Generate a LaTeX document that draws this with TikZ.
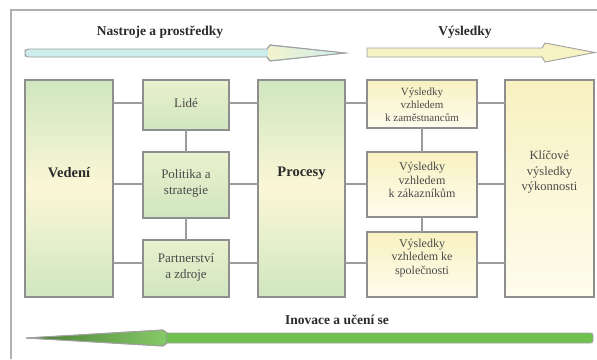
\documentclass[tikz,border=0pt]{standalone}
\usepackage{fontspec}
\setmainfont{Liberation Serif}
\definecolor{gr}{HTML}{D0E6C0}
\definecolor{ye}{HTML}{FBF7D6}
\definecolor{yel}{HTML}{F8F1C0}
\definecolor{yelb}{HTML}{FEFCEE}
\definecolor{boxline}{HTML}{8E8E8E}
\definecolor{connc}{HTML}{9C9C9C}
\definecolor{txtc}{HTML}{4A4A4A}
\definecolor{boldc}{HTML}{2B2B2B}
\definecolor{framec}{HTML}{B0B0B0}
\definecolor{arrc}{HTML}{A0A0A0}
\definecolor{cy}{HTML}{CDEDED}
\definecolor{cyhead}{HTML}{F3F3CC}
\definecolor{yarr}{HTML}{F7F2C4}
\definecolor{grarr}{HTML}{70C04E}
\begin{document}
\begin{tikzpicture}[x=1pt,y=-1pt,
  box/.style={draw=boxline, line width=1.1pt, inner sep=0pt, outer sep=0pt, rectangle},
  gbig/.style={box, top color=gr, bottom color=gr, middle color=ye},
  gsmall/.style={box, top color=ye!60!gr, bottom color=gr},
  ybox/.style={box, top color=yel, bottom color=yelb},
  conn/.style={draw=connc, line width=1.4pt},
  bigtxt/.style={text=boldc, font=\fontsize{14.5}{17}\selectfont\bfseries},
  title/.style={text=boldc, font=\fontsize{13.5}{16}\selectfont\bfseries},
  lbl/.style={align=center, text=txtc, font=\fontsize{13}{16}\selectfont, inner sep=0pt},
  lblv/.style={align=center, text=txtc, font=\fontsize{12}{13.5}\selectfont, inner sep=0pt},
  lblvs/.style={align=center, text=txtc, font=\fontsize{11}{13}\selectfont, inner sep=0pt},
  arr/.style={draw=arrc, line width=0.9pt}
]
\useasboundingbox (0,0) rectangle (597,359);
\fill[white] (0,0) rectangle (597,359);
% frame
\draw[framec, line width=1.8pt] (11,359) -- (11,10) -- (597,10);

% titles
\node[title] (t1) at (160,32) {Nastroje a prostředky};
\node[title] (t2) at (465,32) {Výsledky};
\node[title] (t3) at (337,320) {Inovace a učení se};

% top cyan arrow
\draw[arr, fill=cy] (25,53) [rounded corners=3.5pt] -- (25,49) -- (120,49) [sharp corners] -- (267,49) -- (270,45) -- (345,53) -- (270,61) -- (267,57) -- (120,57) [rounded corners=3.5pt] -- (25,57) -- cycle;
\shade[left color=cyhead, right color=cy] (268,49.6) -- (270.6,46.2) -- (343,53) -- (270.6,59.8) -- (268,56.4) -- cycle;
\draw[arr] (267,49) -- (270,45) -- (345,53) -- (270,61) -- (267,57);

% top yellow arrow
\draw[arr, fill=yarr] (367,48) -- (542,48) -- (545,43) -- (595,52.5) -- (545,62) -- (542,57) -- (367,57) -- cycle;

% bottom green arrow
\draw[arr, fill=grarr] (26,338) -- (163,330) -- (167,333) [rounded corners=2.5pt] -- (593,333) -- (593,343) [sharp corners] -- (167,343) -- (163,346) -- cycle;
\shade[left color=grarr!65!black, right color=grarr!85!white] (28,338) -- (162.5,330.8) -- (165.5,333.6) -- (165.5,342.4) -- (162.5,345.2) -- cycle;
\draw[arr] (26,338) -- (163,330) -- (167,333) -- (167,343) -- (163,346) -- cycle;

% boxes
\node[gbig, minimum width=88pt, minimum height=217pt] (ved) at (69,188.5) {};
\node[gsmall, minimum width=86pt, minimum height=50pt] (lide) at (186,105) {};
\node[gsmall, minimum width=86pt, minimum height=66pt] (polit) at (186,185) {};
\node[gsmall, minimum width=86pt, minimum height=57pt] (part) at (186,268.5) {};
\node[gbig, minimum width=87pt, minimum height=217pt] (proc) at (301.5,188.5) {};
\node[ybox, minimum width=110pt, minimum height=48pt] (v1) at (422,104) {};
\node[ybox, minimum width=110pt, minimum height=65pt] (v2) at (422,184.5) {};
\node[ybox, minimum width=110pt, minimum height=65pt] (v3) at (422,264.5) {};
\node[ybox, minimum width=89pt, minimum height=217pt] (klic) at (549.5,188.5) {};

% texts
\node[bigtxt] (vedT) at ([yshift=15.5pt]ved.center) {Vedení};
\node[bigtxt] (procT) at ([yshift=15.5pt]proc.center) {Procesy};
\node[lbl] (lideT) at ([yshift=2pt]lide.center) {Lidé};
\node[lbl] (politT) at ([yshift=2pt]polit.center) {Politika a\\strategie};
\node[lbl] (partT) at ([yshift=1.5pt]part.center) {Partnerství\\a zdroje};
\node[lblvs] (v1T) at ([yshift=-1pt]v1.center) {Výsledky\\vzhledem\\k zaměstnancům};
\node[lblv] (v2T) at ([yshift=4.5pt]v2.center) {Výsledky\\vzhledem\\k zákazníkům};
\node[lblv] (v3T) at ([yshift=6.5pt]v3.center) {Výsledky\\vzhledem ke\\společnosti};
\node[lbl, font=\fontsize{12.5}{15.5}\selectfont] (klicT) at ([yshift=16.5pt]klic.center) {Klíčové\\výsledky\\výkonnosti};

% connector levels
\coordinate (r1) at ([yshift=2pt]lide.center);
\coordinate (r2) at ([yshift=1pt]polit.center);
\coordinate (r3) at ([yshift=5.5pt]part.center);
\foreach \r in {r1,r2,r3}{
  \draw[conn] (\r -| ved.east) -- (\r -| lide.west);
  \draw[conn] (\r -| lide.east) -- (\r -| proc.west);
  \draw[conn] (\r -| proc.east) -- (\r -| v1.west);
  \draw[conn] (\r -| v1.east) -- (\r -| klic.west);
}
\draw[conn] (lide.south) -- (polit.north);
\draw[conn] (polit.south) -- (part.north);
\draw[conn] (v1.south) -- (v2.north);
\draw[conn] (v2.south) -- (v3.north);
\end{tikzpicture}
\end{document}
